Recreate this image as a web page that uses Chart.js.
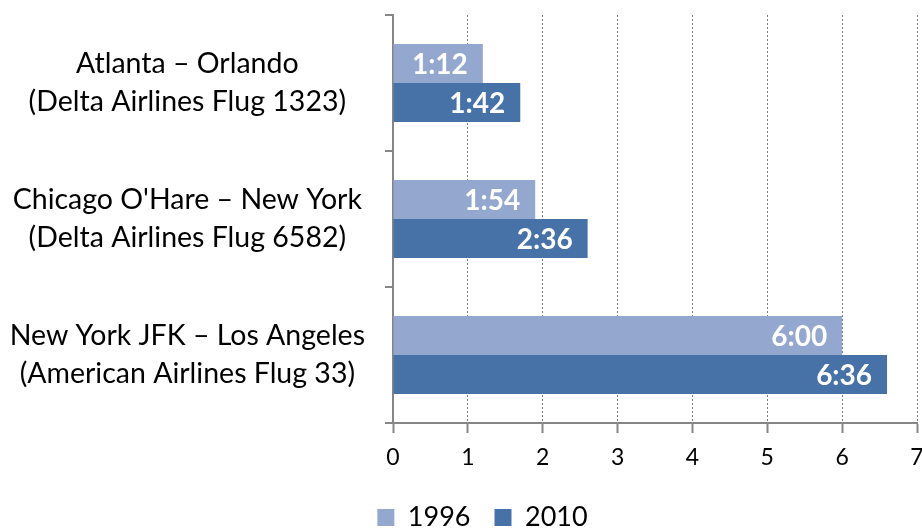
<!DOCTYPE html>
<html>
<head>
<meta charset="utf-8">
<script src="https://cdn.jsdelivr.net/npm/chart.js@4"></script>
<style>
  html, body { margin: 0; padding: 0; background: #fff; overflow: hidden; }
  #wrap { width: 922px; height: 531px; position: relative; }
</style>
</head>
<body>
<div id="wrap"><canvas id="chart"></canvas></div>
<script>
// flight times in hours
const routes = [
    ['Atlanta – Orlando', '(Delta Airlines Flug 1323)'],
    ["Chicago O'Hare – New York", '(Delta Airlines Flug 6582)'],
    ['New York JFK – Los Angeles', '(American Airlines Flug 33)'],
];
const times1996 = [1.2, 1.9, 6.0];
const times2010 = [1.7, 2.6, 6.6];
const xTicks = [0, 1, 2, 3, 4, 5, 6, 7];

const AXIS_GREY = '#868686';

// hours -> "h:mm"
function toClock(v) {
    const h = Math.floor(v);
    const m = Math.round((v - h) * 60);
    return h + ':' + String(m).padStart(2, '0');
}

// white time label at the inner end of each bar
const barLabels = {
    id: 'barLabels',
    afterDatasetsDraw(chart) {
        const ctx = chart.ctx;
        ctx.save();
        ctx.font = 'bold 28px Lato';
        ctx.fillStyle = '#fff';
        ctx.textAlign = 'right';
        ctx.textBaseline = 'middle';
        chart.data.datasets.forEach((ds, i) => {
            chart.getDatasetMeta(i).data.forEach((bar, j) => {
                ctx.fillText(toClock(ds.data[j]), bar.x - 15, bar.y + 1);
            });
        });
        ctx.restore();
    },
};

// legend sits a bit right of the canvas centre in the original
const legendShift = {
    id: 'legendShift',
    afterLayout(chart) {
        chart.legend.left += 24;
        chart.legend.right += 24;
    },
};

function draw() {
    new Chart(document.getElementById('chart'), {
        type: 'bar',
        data: {
            labels: routes,
            datasets: [
                {
                    label: '1996',
                    data: times1996,
                    backgroundColor: '#94a8cf',
                    categoryPercentage: 0.574,
                    barPercentage: 1,
                },
                {
                    label: '2010',
                    data: times2010,
                    backgroundColor: '#4672a8',
                    categoryPercentage: 0.574,
                    barPercentage: 1,
                },
            ],
        },
        options: {
            indexAxis: 'y',
            responsive: true,
            maintainAspectRatio: false,
            animation: false,
            layout: { padding: { left: 0, right: 5, top: 15, bottom: 0 } },
            plugins: {
                tooltip: { enabled: false },
                legend: {
                    position: 'bottom',
                    maxHeight: 51,
                    labels: {
                        font: { family: 'Lato', size: 27 },
                        color: '#000',
                        boxWidth: 17,
                        boxHeight: 17,
                        padding: 24,
                    },
                },
            },
            scales: {
                x: {
                    min: 0,
                    max: 7,
                    afterBuildTicks: (s) => { s.ticks = xTicks.map(v => ({ value: v })); },
                    afterFit: (s) => { s.height = 57; s.paddingLeft = 0; s.paddingRight = 0; },
                    grid: {
                        color: '#7a7a7a',
                        lineWidth: 1,
                        tickColor: AXIS_GREY,
                        tickWidth: 2,
                        tickLength: 10,
                    },
                    border: { display: true, color: AXIS_GREY, width: 2, dash: [2, 2] },
                    ticks: {
                        font: { family: 'Lato', size: 23 },
                        color: '#000',
                        padding: 11,
                    },
                },
                y: {
                    afterFit: (s) => { s.width = 393; s.paddingTop = 0; s.paddingBottom = 0; },
                    grid: {
                        drawOnChartArea: false,
                        color: AXIS_GREY,
                        lineWidth: 2,
                        tickLength: 8,
                    },
                    border: { display: true, color: AXIS_GREY, width: 2 },
                    ticks: {
                        font: { family: 'Lato', size: 28.5, lineHeight: 1.333 },
                        color: '#000',
                        padding: 20,
                        crossAlign: 'center',
                    },
                },
            },
        },
        plugins: [barLabels, legendShift],
    });
}

Promise.all([
    document.fonts.load('28px Lato'),
    document.fonts.load('bold 28px Lato'),
]).then(draw, draw);
</script>
</body>
</html>
